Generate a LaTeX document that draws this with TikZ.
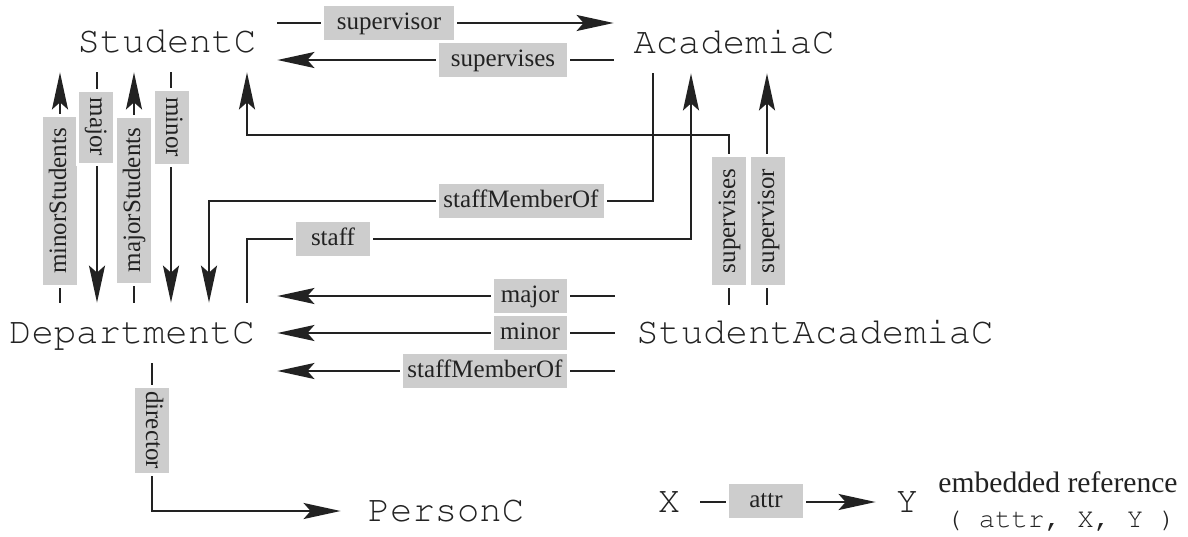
\documentclass[tikz,border=0pt]{standalone}
\usepackage[T1,TU]{fontenc}
\usepackage{fontspec}
\setmainfont{Liberation Serif}
\newcommand\namefont{\fontencoding{T1}\fontfamily{pcr}\fontseries{m}\fontshape{n}}
\usetikzlibrary{arrows.meta}
\definecolor{ink}{HTML}{222222}
\definecolor{tag}{HTML}{CDCDCD}
\tikzset{
  cls/.style={inner sep=0pt, font=\namefont\fontsize{18.6}{20}\selectfont,
    text=ink, text height=11pt, text depth=1pt},
  conn/.style={draw=ink, line width=1.1pt,
    -{Stealth[length=18.5pt,width=8pt,inset=3.5pt]}},
  tagbox/.style={fill=tag, preaction={draw=white, line width=3pt},
    inner sep=0pt, minimum height=17pt, text height=8.6pt, text depth=2.6pt,
    font=\fontsize{12.5}{14}\selectfont, text=ink},
}
\begin{document}
\begin{tikzpicture}[x=0.5pt, y=-0.5pt]
\useasboundingbox (0,0) rectangle (1188,536);

% classes
\node[cls, minimum width=110pt, minimum height=30pt] (stu) at (167,42) {StudentC};
\node[cls, minimum width=120pt, minimum height=30pt] (aca) at (734,43) {AcademiaC};
\node[cls, minimum width=145pt, minimum height=30pt] (dep) at (132,333) {DepartmentC};
\node[cls, minimum width=200pt, minimum height=28pt] (sac) at (815,333) {StudentAcademiaC};
\node[cls, minimum width=105pt] (per) at (446,511) {PersonC};
\node[cls, minimum width=31pt] (x) at (669,502) {X};
\node[cls, minimum width=31pt] (y) at (907,502) {Y};

% references between classes
\draw[conn] (stu.east |- 0,23) -- (aca.west |- 0,23);
\draw[conn] (aca.west |- 0,60) -- (stu.east |- 0,60);

\draw[conn] (dep.north -| 60,0) -- (stu.south -| 60,0);
\draw[conn] (stu.south -| 97,0) -- (dep.north -| 97,0);
\draw[conn] (dep.north -| 134,0) -- (stu.south -| 134,0);
\draw[conn] (stu.south -| 171,0) -- (dep.north -| 171,0);

\draw[conn] (aca.south -| 653,0) |- (209,201) -- (dep.north -| 209,0);
\draw[conn] (dep.north -| 247,0) |- (691,239) -- (aca.south -| 691,0);
\draw[conn] (sac.north -| 729,0) |- (247,135) -- (stu.south -| 247,0);
\draw[conn] (sac.north -| 767,0) -- (aca.south -| 767,0);

\draw[conn] (sac.west |- 0,296) -- (dep.east |- 0,296);
\draw[conn] (sac.west) -- (dep.east);
\draw[conn] (sac.west |- 0,371) -- (dep.east |- 0,371);

\draw[conn] (dep.south -| 152,0) |- (per.west);
\draw[conn] (x.east) -- (y.west);

% attribute names
\node[tagbox, minimum width=65pt] (l1) at (389,23) {supervisor};
\node[tagbox, minimum width=64pt] (l2) at (503,60) {supervises};
\node[tagbox, minimum width=84pt, rotate=90] (l3) at (60,201) {minorStudents};
\node[tagbox, minimum width=35.5pt, rotate=-90] (l4) at (96,127) {major};
\node[tagbox, minimum width=82.5pt, rotate=90] (l5) at (134,200) {majorStudents};
\node[tagbox, minimum width=36.5pt, rotate=-90] (l6) at (172,127) {minor};
\node[tagbox, minimum width=82.5pt] (l7) at (521,201) {staffMemberOf};
\node[tagbox, minimum width=37pt] (l8) at (333,239) {staff};
\node[tagbox, minimum width=64pt, rotate=90] (l9) at (729,221) {supervises};
\node[tagbox, minimum width=64pt, rotate=90] (l10) at (768,221) {supervisor};
\node[tagbox, minimum width=36.5pt] (l11) at (530,296) {major};
\node[tagbox, minimum width=36.5pt] (l12) at (530,333) {minor};
\node[tagbox, minimum width=82pt] (l13) at (485,371) {staffMemberOf};
\node[tagbox, minimum width=42.5pt, rotate=-90] (l14) at (152,430) {director};
\node[tagbox, minimum width=37pt] (l15) at (766,501) {attr};

% legend
\node[inner sep=0pt, anchor=base, text=ink, font=\fontsize{14.8}{16}\selectfont]
  (emb) at (1058,492) {embedded reference};
\node[inner sep=0pt, anchor=base, text=ink, font=\namefont\fontsize{13.7}{15}\selectfont]
  (tri) at (1061,527) {( attr, X, Y )};
\end{tikzpicture}
\end{document}
